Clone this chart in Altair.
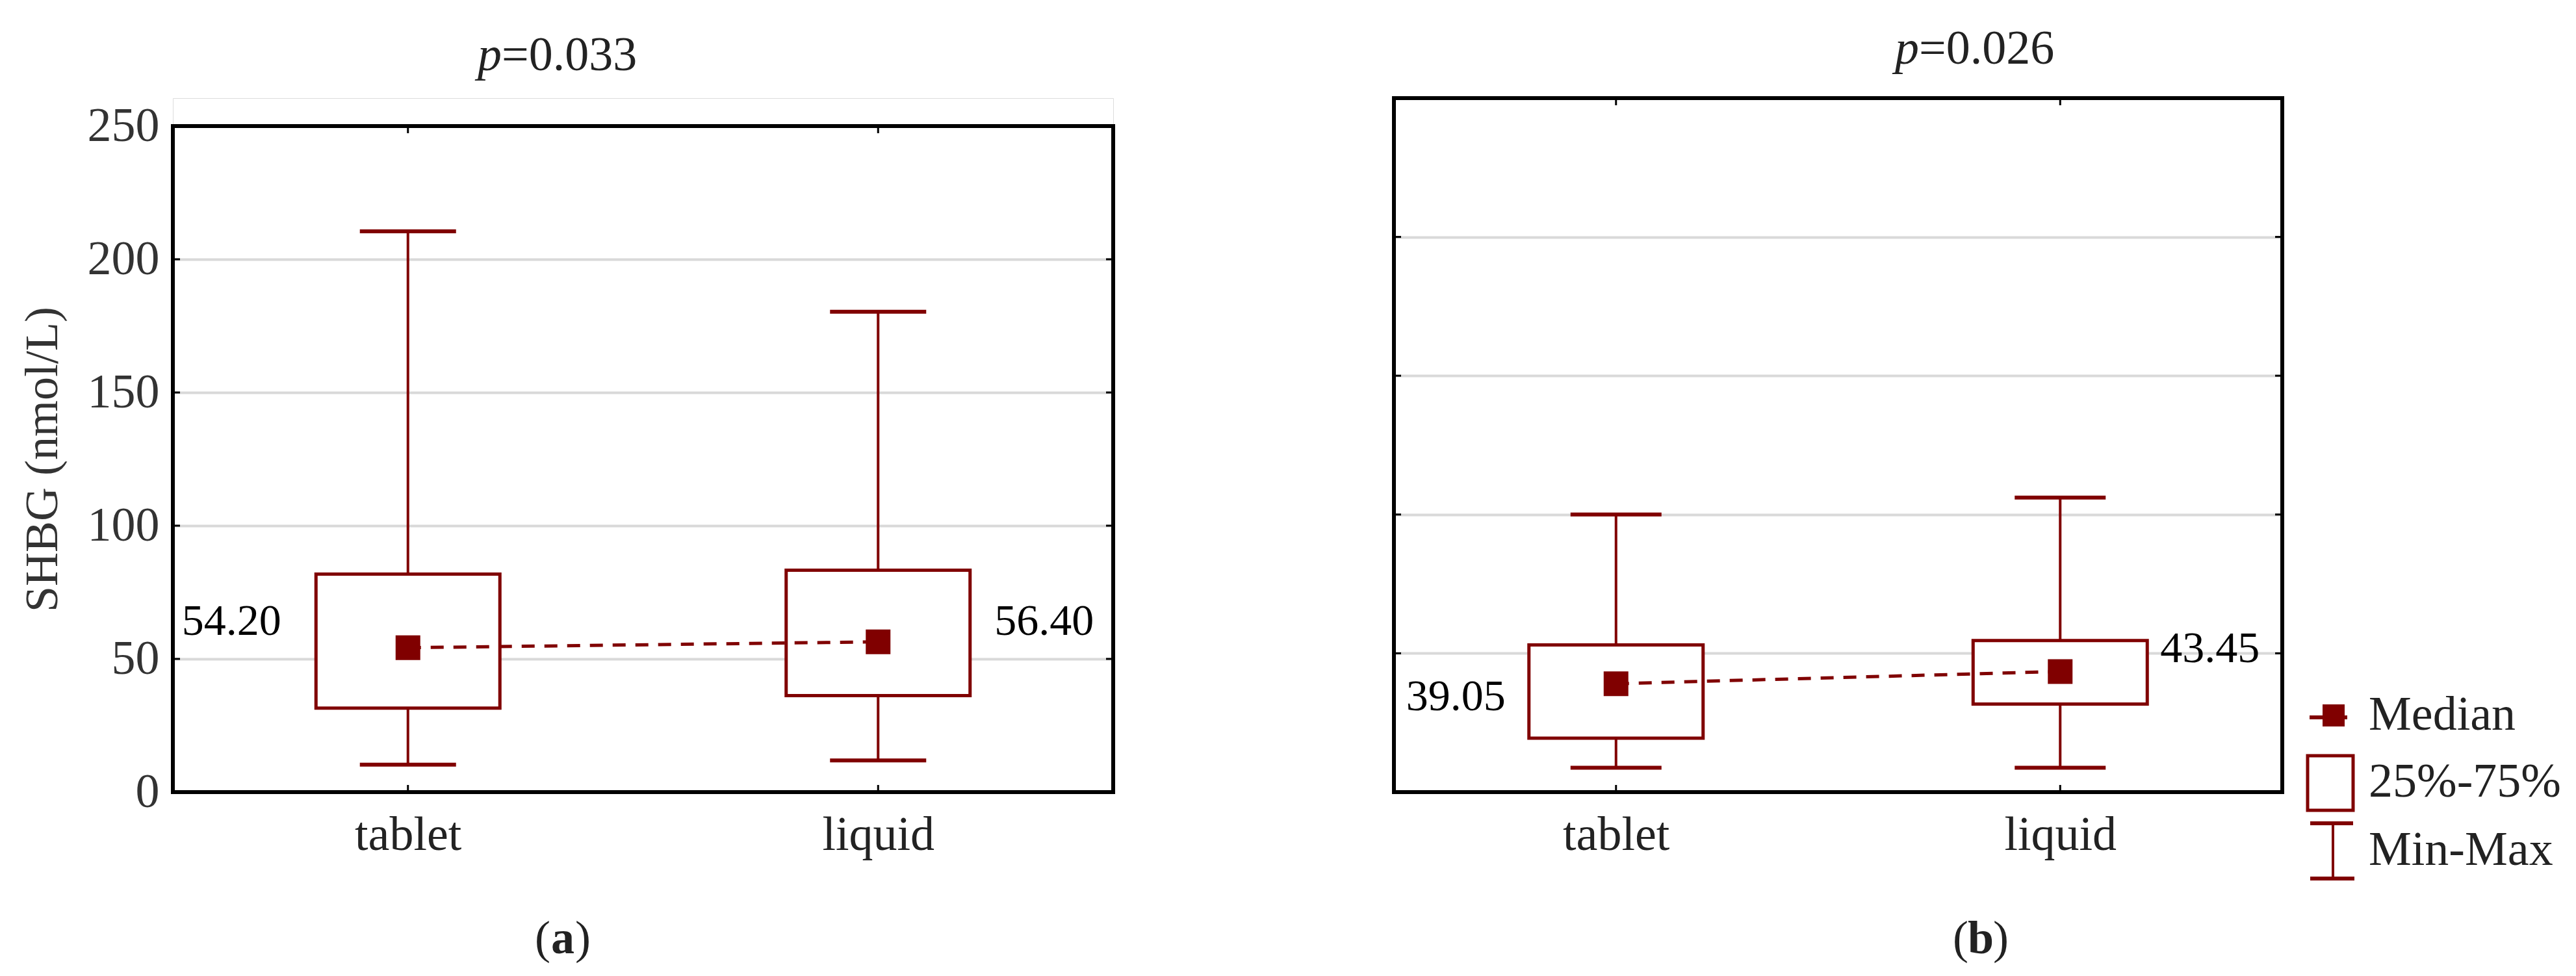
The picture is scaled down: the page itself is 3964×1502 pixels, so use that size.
import altair as alt
import pandas as pd

# ---------------- data ----------------
categories = ["tablet", "liquid"]

a_min = [10.3, 11.9]
a_q1 = [31.5, 36.2]
a_median = [54.20, 56.40]
a_q3 = [81.8, 83.3]
a_max = [210.5, 180.3]

b_min = [8.8, 8.8]
b_q1 = [19.4, 31.7]
b_median = [39.05, 43.45]
b_q3 = [53.0, 54.6]
b_max = [100.0, 106.1]

y_ticks = [0, 50, 100, 150, 200, 250]
p_values = ["0.033", "0.026"]
panel_letters = ["a", "b"]
y_title = "SHBG (nmol/L)"
legend_labels = ["Median", "25%-75%", "Min-Max"]

FONT = "Liberation Serif"
RED = "#800000"
TXT = "#222222"


def text_at(txt, x, y, align="left", baseline="alphabetic", size=72, weight="normal", style="normal", color=TXT):
    return alt.Chart(pd.DataFrame({"t": [txt]})).mark_text(
        align=align, baseline=baseline, font=FONT, fontSize=size,
        fontWeight=weight, fontStyle=style, color=color
    ).encode(text="t:N", x=alt.value(x), y=alt.value(y))


def panel(mins, q1s, meds, q3s, maxs, W, H, top, box_w, cap_w, show_y,
          lab_cfg, title_x, title_y, p_text, cap_x, letter, legend=False):
    df = pd.DataFrame({"cat": categories, "min": mins, "q1": q1s,
                       "med": meds, "q3": q3s, "max": maxs})
    df["lab"] = [f"{m:.2f}" for m in meds]

    yscale = alt.Scale(domain=[0, 250], range=[H, top], nice=False, zero=False)
    if show_y:
        yaxis = alt.Axis(values=y_ticks, labelFont=FONT, labelFontSize=74, labelColor="#333333",
                         labelPadding=21, ticks=False, tickSize=0, domain=False, grid=True,
                         gridColor="#d9d9d9", gridWidth=4, titleFont=FONT, titleFontSize=72,
                         titleFontWeight="normal", titleColor="#333333", titlePadding=32)
        ytitle = y_title
    else:
        yaxis = alt.Axis(values=y_ticks, labels=False, ticks=False, tickSize=0, domain=False,
                         grid=True, gridColor="#d9d9d9", gridWidth=4)
        ytitle = ""

    def Y(f):
        return alt.Y(f"{f}:Q", scale=yscale, axis=yaxis, title=ytitle)

    xenc = alt.X("cat:N", sort=categories, scale=alt.Scale(type="point", padding=0.5),
                 axis=alt.Axis(labelFont=FONT, labelFontSize=74, labelColor=TXT, labelAngle=0,
                               labelPadding=30, ticks=False, tickSize=0, domain=False, grid=False),
                 title="")

    base = alt.Chart(df)
    layers = []
    layers.append(base.mark_rule(color=RED, strokeWidth=4).encode(x=xenc, y=Y("min"), y2="max"))
    layers.append(base.mark_tick(color=RED, size=cap_w, thickness=6, opacity=1).encode(x=xenc, y=Y("min")))
    layers.append(base.mark_tick(color=RED, size=cap_w, thickness=6, opacity=1).encode(x=xenc, y=Y("max")))
    layers.append(base.mark_bar(size=box_w, fill="white", stroke=RED, strokeWidth=5).encode(
        x=xenc, y=Y("q1"), y2="q3"))
    layers.append(base.mark_line(color=RED, strokeWidth=5, strokeDash=[20, 15]).encode(x=xenc, y=Y("med")))
    layers.append(base.mark_square(color=RED, size=38 * 38, opacity=1, filled=True).encode(x=xenc, y=Y("med")))
    for cat, (align, dx, dy) in zip(categories, lab_cfg):
        layers.append(base.transform_filter(alt.datum.cat == cat).mark_text(
            align=align, baseline="middle", dx=dx, dy=dy, font=FONT, fontSize=68, color="black"
        ).encode(x=xenc, y=Y("med"), text="lab:N"))

    # tick marks (inward)
    tdf = pd.DataFrame({"t": y_ticks})
    layers.append(alt.Chart(tdf).mark_rule(color="black", strokeWidth=3).encode(
        x=alt.value(0), x2=alt.value(11), y=Y("t")))
    layers.append(alt.Chart(tdf).mark_rule(color="black", strokeWidth=3).encode(
        x=alt.value(W - 11), x2=alt.value(W), y=Y("t")))
    layers.append(base.mark_rule(color="black", strokeWidth=3).encode(
        x=xenc, y=alt.value(H), y2=alt.value(H - 11)))
    layers.append(base.mark_rule(color="black", strokeWidth=3).encode(
        x=xenc, y=alt.value(top), y2=alt.value(top + 11)))

    # frame
    layers.append(alt.Chart(pd.DataFrame({"k": [0]})).mark_rect(
        fillOpacity=0, stroke="black", strokeWidth=6).encode(
        x=alt.value(0), x2=alt.value(W), y=alt.value(top), y2=alt.value(H)))

    # title  p=...
    layers.append(text_at("p", title_x, title_y, align="right", size=74, style="italic"))
    layers.append(text_at("=" + p_text, title_x, title_y, align="left", size=74))

    # caption (a)/(b)
    layers.append(text_at("(", cap_x - 19, 1316, align="right", size=72))
    layers.append(text_at(letter, cap_x, 1316, align="center", size=72, weight="bold"))
    layers.append(text_at(")", cap_x + 19, 1316, align="left", size=72))

    if legend:
        sym = pd.DataFrame({"k": [0]})
        # median symbol
        layers.append(alt.Chart(sym).mark_rule(color=RED, strokeWidth=6).encode(
            x=alt.value(1409), x2=alt.value(1467), y=alt.value(953)))
        layers.append(alt.Chart(sym).mark_square(color=RED, size=34 * 34, opacity=1).encode(
            x=alt.value(1446), y=alt.value(950)))
        # box symbol
        layers.append(alt.Chart(sym).mark_rect(fill="white", stroke=RED, strokeWidth=5).encode(
            x=alt.value(1406), x2=alt.value(1476), y=alt.value(1012), y2=alt.value(1096)))
        # whisker symbol
        layers.append(alt.Chart(sym).mark_rule(color=RED, strokeWidth=4).encode(
            x=alt.value(1445), y=alt.value(1116), y2=alt.value(1201)))
        layers.append(alt.Chart(sym).mark_rule(color=RED, strokeWidth=6).encode(
            x=alt.value(1410), x2=alt.value(1476), y=alt.value(1116)))
        layers.append(alt.Chart(sym).mark_rule(color=RED, strokeWidth=6).encode(
            x=alt.value(1410), x2=alt.value(1478), y=alt.value(1201)))
        for lab, yy in zip(legend_labels, [950, 1053, 1158]):
            layers.append(text_at(lab, 1500, yy, align="left", baseline="middle", size=74))

    return alt.layer(*layers).properties(width=W, height=H)


panel_a = panel(a_min, a_q1, a_median, a_q3, a_max, W=1447, H=1068, top=43, box_w=283, cap_w=148,
                show_y=True, lab_cfg=[("right", -195, -40), ("left", 179, -31)],
                title_x=506, title_y=-43, p_text=p_values[0], cap_x=600, letter=panel_letters[0])

panel_b = panel(b_min, b_q1, b_median, b_q3, b_max, W=1367, H=1068, top=0, box_w=268, cap_w=140,
                show_y=False, lab_cfg=[("right", -170, 21), ("left", 154, -34)],
                title_x=808, title_y=-53, p_text=p_values[1], cap_x=903, letter=panel_letters[1],
                legend=True)

chart = alt.hconcat(panel_a, panel_b, spacing=424).properties(
    padding={"left": 20, "top": 30, "right": 5, "bottom": 5}
).configure_view(strokeWidth=0, stroke="transparent").configure(background="white")

chart.save("out.html", embed_options={"renderer": "svg", "actions": False})
